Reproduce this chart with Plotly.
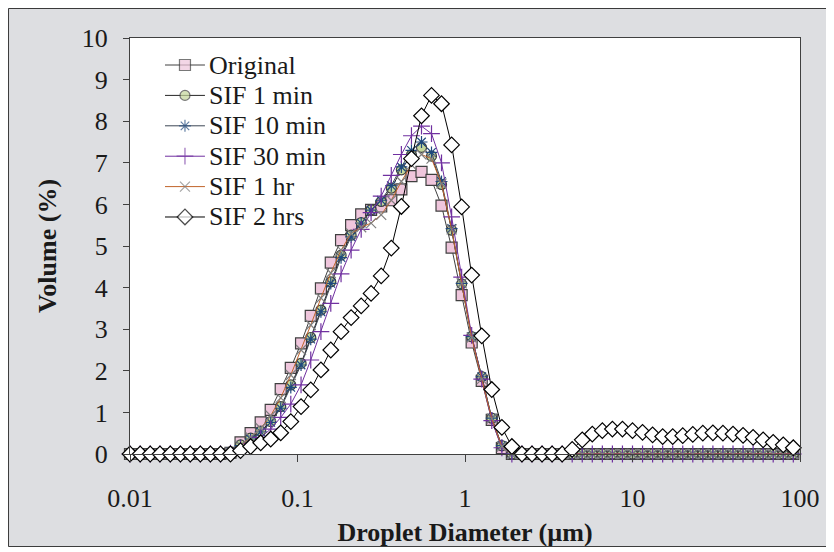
from typing import List

from plotly.graph_objs import Figure, Scatter

# Mastersizer size classes (um)
diameter = [0.010, 0.0115, 0.0132, 0.0151, 0.0174, 0.0200, 0.0229, 0.0263, 0.0302, 0.0347,
            0.0398, 0.0457, 0.0525, 0.0603, 0.0692, 0.0794, 0.0912, 0.105, 0.120, 0.138,
            0.158, 0.182, 0.209, 0.240, 0.275, 0.316, 0.363, 0.417, 0.479, 0.550,
            0.631, 0.724, 0.832, 0.955, 1.096, 1.259, 1.445, 1.660, 1.905, 2.188,
            2.512, 2.884, 3.311, 3.802, 4.365, 5.012, 5.754, 6.607, 7.586, 8.710,
            10.00, 11.48, 13.18, 15.14, 17.38, 19.95, 22.91, 26.30, 30.20, 34.67,
            39.81, 45.71, 52.48, 60.26, 69.18, 79.43, 91.20]

original = [0.0] * 10 + [0.03, 0.28, 0.5, 0.76, 1.06, 1.56, 2.07, 2.66, 3.32, 3.98,
                         4.6, 5.14, 5.5, 5.76, 5.87, 5.95, 6.1, 6.36, 6.68, 6.78,
                         6.59, 5.97, 4.96, 3.82, 2.68, 1.76, 0.82, 0.14] + [0.0] * 29
sif_1min = [0.0] * 10 + [0.05, 0.22, 0.38, 0.55, 0.78, 1.14, 1.66, 2.18, 2.8, 3.46,
                         4.14, 4.78, 5.26, 5.56, 5.87, 6.07, 6.39, 6.83, 7.19, 7.37,
                         7.16, 6.48, 5.38, 4.09, 2.82, 1.86, 0.86, 0.2] + [0.0] * 29
sif_10min = [0.0] * 10 + [0.05, 0.2, 0.36, 0.53, 0.76, 1.1, 1.6, 2.14, 2.76, 3.42,
                          4.1, 4.72, 5.22, 5.55, 5.86, 6.1, 6.45, 6.9, 7.3, 7.5,
                          7.25, 6.55, 5.42, 4.1, 2.82, 1.86, 0.86, 0.2] + [0.0] * 29
sif_30min = [0.0] * 10 + [0.02, 0.12, 0.25, 0.4, 0.6, 0.88, 1.2, 1.66, 2.26, 2.94,
                          3.62, 4.33, 4.9, 5.4, 5.8, 6.2, 6.7, 7.2, 7.65, 7.88,
                          7.7, 7.0, 5.7, 4.25, 2.85, 1.8, 0.8, 0.15] + [0.0] * 29
sif_1hr = [0.0] * 10 + [0.03, 0.2, 0.4, 0.62, 0.92, 1.35, 1.9, 2.5, 3.1, 3.75,
                        4.35, 4.9, 5.3, 5.45, 5.55, 5.75, 6.1, 6.55, 6.95, 7.2,
                        7.1, 6.5, 5.4, 4.1, 2.8, 1.8, 0.85, 0.18] + [0.0] * 29
sif_2hrs = ([0.0] * 11
            + [0.08, 0.18, 0.27, 0.36, 0.51, 0.78, 1.14, 1.54, 2.02, 2.5,
               2.94, 3.28, 3.56, 3.86, 4.28, 4.95, 5.95, 7.1, 8.13, 8.62,
               8.42, 7.43, 5.94, 4.3, 2.84, 1.55, 0.64, 0.18]
            + [0.0] * 5
            + [0.11, 0.34, 0.48, 0.56, 0.6, 0.6, 0.56, 0.52, 0.46, 0.42,
               0.42, 0.44, 0.47, 0.5, 0.51, 0.5, 0.48, 0.45, 0.4, 0.34,
               0.28, 0.22, 0.15])

x_tickvals = [0.01, 0.1, 1, 10, 100]
x_ticktext = ['0.01', '0.1', '1', '10', '100']

FONT = "'Liberation Serif', 'Times New Roman', serif"
FONT_SIZE = 26
TITLE_SIZE = 26

# name, values, line colour, marker symbol, marker size, fill, outline
series = [
    ('Original', original, '#404040', 'square', 11, '#efc6dc', '#404040'),
    ('SIF 1 min', sif_1min, '#262626', 'circle', 10, '#c4d79b', '#404040'),
    ('SIF 10 min', sif_10min, '#3c4654', 'asterisk-open', 10, '#1f497d', '#1f497d'),
    ('SIF 30 min', sif_30min, '#7030a0', 'cross-thin-open', 12, '#7030a0', '#7030a0'),
    ('SIF 1 hr', sif_1hr, '#c0642a', 'x-thin-open', 10, '#7f7f7f', '#7f7f7f'),
    ('SIF 2 hrs', sif_2hrs, '#000000', 'diamond', 12, '#ffffff', '#000000'),
]


def _add_series(fig: Figure, name: str, y: List[float], color: str, symbol: str,
                size: int, fill: str, outline: str):
    fig.add_trace(Scatter(
        x=diameter, y=y, name=name, mode='lines+markers', cliponaxis=False,
        showlegend=False,
        line=dict(color=color, width=1),
        marker=dict(symbol=symbol, size=size, color=fill,
                    line=dict(color=outline, width=1.2)),
    ))


def _add_legend_entry(fig: Figure, row: int, name: str, color: str, symbol: str,
                      size: int, fill: str, outline: str):
    # excel-style legend: tight rows, drawn on its own small axes
    fig.add_trace(Scatter(
        x=[0, 1, 2], y=[row, row, row], mode='lines+markers', cliponaxis=False,
        showlegend=False, hoverinfo='skip', xaxis='x2', yaxis='y2',
        line=dict(color=color, width=1),
        marker=dict(symbol=symbol, size=[0, size, 0], color=fill,
                    line=dict(color=outline, width=[0, 1.2, 0])),
    ))
    fig.add_annotation(text=name, xref='paper', x=0.1149, yref='y2', y=row,
                       xanchor='left', yanchor='middle', showarrow=False,
                       font=dict(size=FONT_SIZE))


def _style(fig: Figure):
    fig.update_layout(
        width=822, height=539,
        margin=dict(l=122, r=30, t=30, b=93, autoexpand=False),
        paper_bgcolor='#dddee1', plot_bgcolor='white',
        font=dict(family=FONT, size=FONT_SIZE, color='#1a1a1a'),
        shapes=[dict(type='rect', xref='paper', yref='paper', layer='above',
                     x0=-0.1813, x1=1.0440, y0=-0.2224, y1=1.0709,
                     line=dict(color='#3a3a3a', width=1))],
        xaxis2=dict(domain=[0.0522, 0.1119], range=[0, 2], anchor='y2',
                    visible=False, fixedrange=True),
        yaxis2=dict(domain=[0.5332, 0.9716], range=[5.5, -0.5], anchor='x2',
                    visible=False, fixedrange=True),
    )
    fig.update_layout(xaxis=dict(
        type='log', range=[-2, 2], tickvals=x_tickvals, ticktext=x_ticktext,
        ticks='outside', ticklen=7, tickcolor='#404040', ticklabelstandoff=14,
        showline=True, linecolor='#404040', linewidth=1, mirror=True,
        showgrid=False, zeroline=False, automargin=False,
        title=dict(text='<b>Droplet Diameter (µm)</b>', standoff=10,
                   font=dict(size=TITLE_SIZE)),
    ))
    fig.update_layout(yaxis=dict(
        range=[0, 10], dtick=1, ticks='outside', ticklen=6, tickcolor='#404040',
        ticklabelstandoff=10,
        showline=True, linecolor='#404040', linewidth=1, mirror=True,
        showgrid=False, zeroline=False, automargin=False,
        title=dict(text='<b>Volume (%)</b>', standoff=17,
                   font=dict(size=TITLE_SIZE)),
    ))


fig = Figure()
for name, y, color, symbol, size, fill, outline in series:
    _add_series(fig, name, y, color, symbol, size, fill, outline)
for row, (name, y, color, symbol, size, fill, outline) in enumerate(series):
    _add_legend_entry(fig, row, name, color, symbol, size, fill, outline)
_style(fig)
fig.write_html('out.html')
